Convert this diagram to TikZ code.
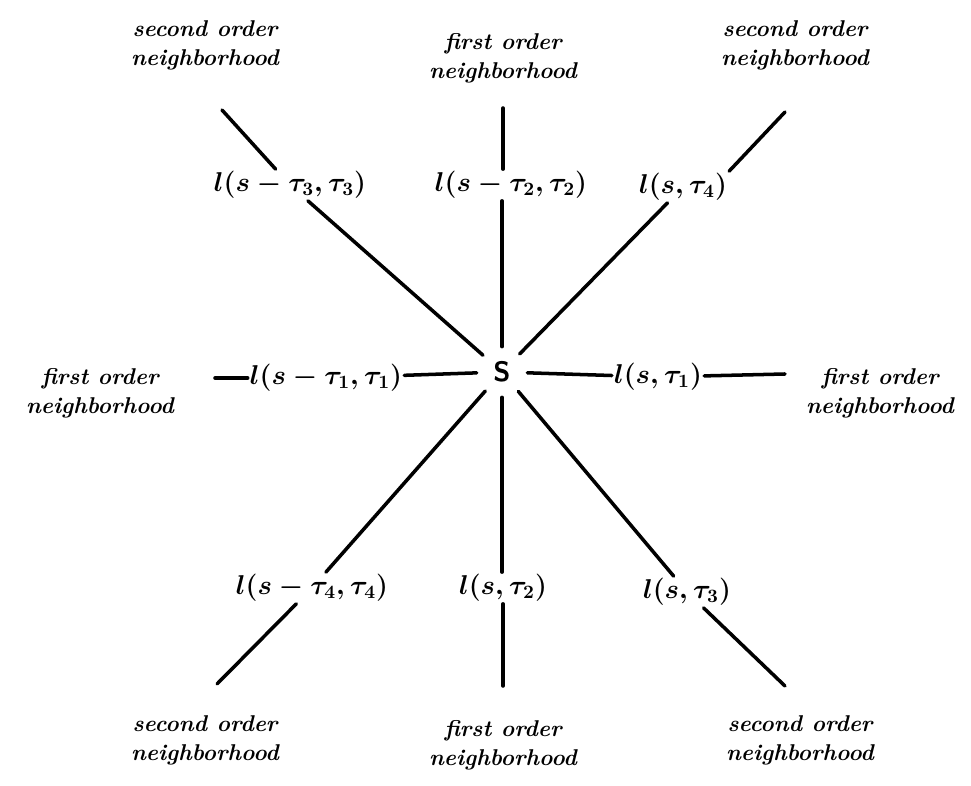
\documentclass[tikz,border=0pt]{standalone}
\usepackage{amsmath}
\usepackage{tikz}
\usetikzlibrary{positioning, calc}
\tikzset{
    % neighborhood texts
    hood/.style={align=center, font=\fontsize{13}{16.5}\selectfont\bfseries\itshape},
    % link labels on the lines
    link/.style={inner sep=1pt, scale=1.075, font=\fontsize{14.4}{17}\selectfont\boldmath},
    site/.style={circle, minimum size=1cm, inner sep=0pt, font=\fontsize{16}{18}\selectfont\sffamily\bfseries},
    edge/.style={draw, line width=2pt, line cap=round}
}
\begin{document}
\begin{tikzpicture}[x=0.02cm, y=-0.02cm]
    \useasboundingbox (0,0) rectangle (971,786);

    \node (S) [site] at (502,372) {S};

    % link labels
    \node (t3) [link] at (290,185) {$l(s-\tau_3,\tau_3)$};
    \node (t2) [link] at (511,185) {$l(s-\tau_2,\tau_2)$};
    \node (t4) [link] at (683,187) {$l(s,\tau_4)$};
    \node (t1L) [link] at (326,378) {$l(s-\tau_1,\tau_1)$};
    \node (t1R) [link] at (658,377) {$l(s,\tau_1)$};
    \node (b4) [link] at (312,588) {$l(s-\tau_4,\tau_4)$};
    \node (b2) [link] at (503,588) {$l(s,\tau_2)$};
    \node (b3) [link] at (687,592) {$l(s,\tau_3)$};

    % free line ends
    \coordinate (e3) at (222,110);
    \coordinate (e2) at (503,108);
    \coordinate (e4) at (785,112);
    \coordinate (e1L) at (215,378);
    \coordinate (e1R) at (785,374);
    \coordinate (f4) at (217,684);
    \coordinate (f2) at (503,686);
    \coordinate (f3) at (785,686);

    % neighborhoods
    \node (n3) [hood] at (205,45) {second order\\neighborhood};
    \node (n2) [hood] at (503,58) {first order\\neighborhood};
    \node (n4) [hood] at (795,45) {second order\\neighborhood};
    \node (n1L) [hood] at (100,393) {first order\\neighborhood};
    \node (n1R) [hood] at (880,393) {first order\\neighborhood};
    \node (m4) [hood] at (205,740) {second order\\neighborhood};
    \node (m2) [hood] at (503,745) {first order\\neighborhood};
    \node (m3) [hood] at (800,740) {second order\\neighborhood};

    \draw [edge] (S) -- (t3);
    \draw [edge] (t3) -- (e3);
    \draw [edge] (S) -- (t2.south -| S);
    \draw [edge] (t2.north -| e2) -- (e2);
    \draw [edge] (S) -- (t4);
    \draw [edge] (t4.north east) -- (e4);
    \draw [edge] (S) -- (t1L);
    \draw [edge] (t1L) -- (e1L);
    \draw [edge] (S) -- (t1R);
    \draw [edge] (t1R) -- (e1R);
    \draw [edge] (S) -- (b4);
    \draw [edge] (b4) -- (f4);
    \draw [edge] (S) -- (b2.north -| S);
    \draw [edge] (b2.south -| f2) -- (f2);
    \draw [edge] (S) -- (b3);
    \draw [edge] (b3) -- (f3);
\end{tikzpicture}
\end{document}
